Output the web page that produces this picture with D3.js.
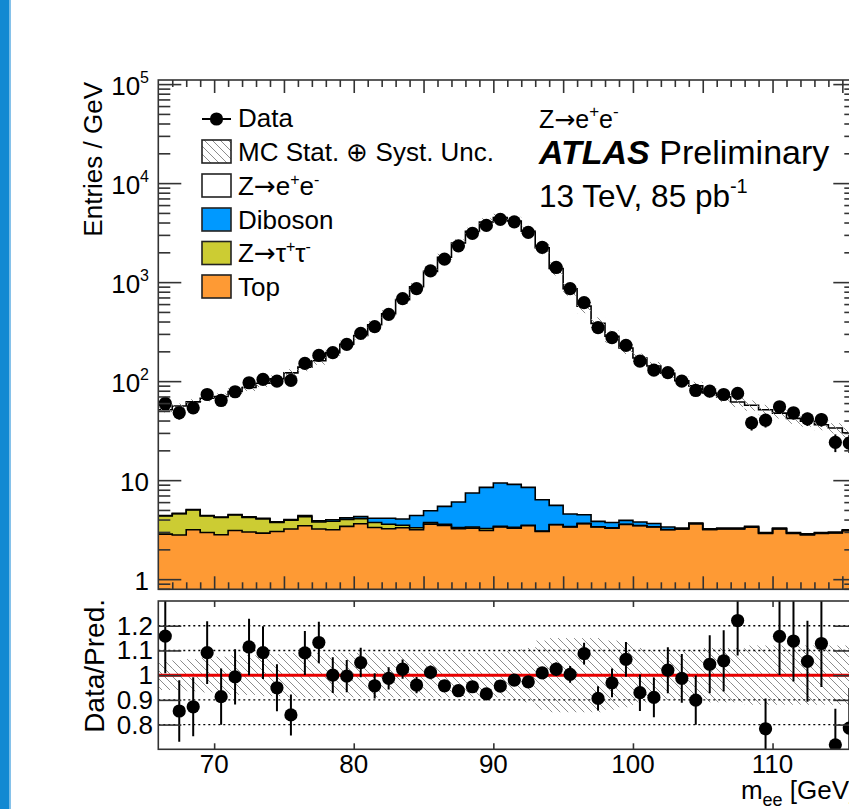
<!DOCTYPE html>
<html><head><meta charset="utf-8">
<script src="https://cdn.jsdelivr.net/npm/d3@7"></script>
<style>
body{margin:0;background:#fff;overflow:hidden}
svg{display:block}
text{font-family:"Liberation Sans",Arial,Helvetica,sans-serif;fill:#000}
.arr{font-family:"DejaVu Sans",sans-serif}
</style></head><body>
<svg id="c" width="849" height="809"></svg>
<script>
// ---------- data ----------
const binEdges = [66,67,68,69,70,71,72,73,74,75,76,77,78,79,80,81,82,83,84,85,86,87,88,89,90,91,92,93,94,95,96,97,98,99,100,101,102,103,104,105,106,107,108,109,110,111,112,113,114,115,116];
const dataVals = [59.5,47.9,53.8,73.3,63.8,78.1,96.3,104,100,101.6, 151,182,194,235,304,355,473,682,861,1298, 1706,2324,3103,3741,4303,4067,3176,2240,1406,861, 622,347,275,230,159,129,122,100,80.5,79.2, 73.3,75.1,37.9,40.3,55.1,47.9,41.6,41,24.1,23.7];
const dataErr = [7.7,6.9,7.3,8.6,8.0,8.8,9.8,10.2,10,10.1, 12.3,13.5,13.9,15.3,17.4,18.8,21.7,26.1,29.3,36, 41.3,48.2,55.7,61.2,65.6,63.8,56.4,47.3,37.5,29.3, 24.9,18.6,16.6,15.2,12.6,11.4,11.0,10,9.0,8.9, 8.6,8.7,6.2,6.3,7.4,6.9,6.4,6.4,4.9,4.9];
const zeeVals = [47.0,51.4,56.7,62.8,65.7,74.2,82.1,91.2,101.6,117.1, 134.1,156.9,190,231.8,284.7,366.9,474.8,662,892.6,1279, 1778,2474,3249,4041,4492,4141,3256,2214,1367,853, 567.5,379.2,280.3,212.1,167.2,138.4,116.6,97.7,85.8,72.7, 66.0,58.2,53.6,48.5,44.3,39.1,36.5,33.3,30.6,27.0];
const dibosonVals = [0.05,0.05,0.05,0.05,0.05,0.05,0.05,0.06,0.06,0.07, 0.10,0.10,0.13,0.15,0.20,0.40,0.55,0.55,1.10,1.19, 1.85,2.68,4.06,5.21,5.96,5.73,4.96,3.28,1.99,1.16, 0.82,0.45,0.44,0.33,0.30,0.27,0.19,0.06,0.05,0.05, 0.05,0.05,0.05,0.05,0.05,0.05,0.05,0.05,0.05,0.05];
const ztautauVals = [1.50,1.78,1.85,1.39,1.38,1.35,1.22,1.14,0.71,0.72, 0.82,0.57,0.70,0.60,0.45,0.40,0.35,0.20,0.15,0.12, 0.10,0.10,0.08,0.15,0.05,0.06,0.04,0.04,0.03,0.03, 0.03,0.02,0.02,0.02,0.02,0.02,0.02,0.01,0.01,0.01, 0.01,0.01,0.01,0.01,0.01,0.01,0.01,0.01,0.01,0.01];
const topVals = [2.85,2.79,3.15,2.96,2.81,3.10,2.99,2.92,3.03,3.21, 3.46,3.21,3.15,3.41,3.63,3.33,3.23,3.30,3.15,3.60, 3.48,3.23,3.28,3.10,3.36,3.28,3.46,3.03,3.54,3.36, 3.63,3.36,3.28,3.57,3.46,3.36,3.15,3.21,3.63,3.17, 3.22,3.22,3.35,2.90,3.22,2.90,2.81,2.90,2.93,3.09];
const mcUnc = [0.06,0.06,0.065,0.07,0.075,0.08,0.08,0.085,0.085,0.09, 0.09,0.09,0.09,0.09,0.09,0.09,0.09,0.09,0.09,0.09, 0.09,0.09,0.09,0.09,0.09,0.10,0.11,0.14,0.15,0.15, 0.15,0.15,0.14,0.13,0.11,0.10,0.10,0.10,0.10,0.11, 0.11,0.11,0.12,0.12,0.12,0.12,0.12,0.12,0.12,0.12];
const ratioVals = [1.158,0.855,0.872,1.091,0.913,0.993,1.114,1.091,0.949,0.839, 1.090,1.132,1.0,0.996,1.051,0.957,0.987,1.024,0.960,1.011, 0.957,0.937,0.953,0.924,0.956,0.980,0.973,1.009,1.024,1.003, 1.087,0.906,0.969,1.064,0.929,0.910,1.020,0.987,0.899,1.044, 1.058,1.221,0.66,0.783,1.157,1.138,1.056,1.128,0.718,0.786];
const ratioErr = [0.150,0.124,0.119,0.127,0.114,0.112,0.114,0.107,0.095,0.083, 0.089,0.084,0.072,0.065,0.060,0.051,0.045,0.039,0.033,0.028, 0.023,0.019,0.017,0.015,0.015,0.015,0.017,0.021,0.027,0.034, 0.044,0.049,0.058,0.070,0.074,0.080,0.093,0.099,0.100,0.117, 0.124,0.141,0.106,0.123,0.156,0.164,0.164,0.176,0.146,0.161];
const xTickLabels = [70,80,90,100,110];
const yDecades = [0,1,2,3,4,5];
const ratioTicks = [0.8,0.9,1.0,1.1,1.2];
const ratioGrid = [0.8,0.9,1.1,1.2];

// ---------- layout ----------
const svg = d3.select("#c");
const X0=158.3, X1=856.3, TY0=80, TY1=589.3, RY0=601, RY1=749.3;
const x = d3.scaleLinear().domain([66,116]).range([X0,X1]);
const y = d3.scaleLog().domain([0.79,1.1e5]).range([TY1,TY0]);
const yr = d3.scaleLinear().domain([0.7,1.3]).range([RY1,RY0]);
const TICK="#333";

svg.append("rect").attr("x",0).attr("y",0).attr("width",849).attr("height",809).attr("fill","#fff");
svg.append("rect").attr("x",0).attr("y",0).attr("width",9.6).attr("height",809).attr("fill","#1289d2");
svg.append("rect").attr("x",9.6).attr("y",0).attr("width",1.4).attr("height",809).attr("fill","#86c2ea");

const defs = svg.append("defs");
defs.append("clipPath").attr("id","clipTop").append("rect").attr("x",X0).attr("y",TY0).attr("width",X1-X0).attr("height",TY1-TY0);
defs.append("clipPath").attr("id","clipRat").append("rect").attr("x",X0).attr("y",RY0).attr("width",X1-X0).attr("height",RY1-RY0);
const pat = defs.append("pattern").attr("id","hatch").attr("patternUnits","userSpaceOnUse").attr("width",8).attr("height",8);
pat.append("path").attr("d","M0,0 L8,8 M-1,7 L1,9 M7,-1 L9,1").attr("stroke","#8c8c8c").attr("stroke-width",1);

const centers = dataVals.map((d,i)=>(binEdges[i]+binEdges[i+1])/2);
const cumTop = topVals.slice();
const cumTau = cumTop.map((v,i)=>v+ztautauVals[i]);
const cumDib = cumTau.map((v,i)=>v+dibosonVals[i]);
const cumZee = cumDib.map((v,i)=>v+zeeVals[i]);

function stepPts(vals){
  const p=[];
  vals.forEach((v,i)=>{p.push([binEdges[i],v]);p.push([binEdges[i+1],v]);});
  return p;
}
const area = d3.area().x(d=>x(d[0])).y0(TY1+2).y1(d=>y(d[1]));
const line = d3.line().x(d=>x(d[0])).y(d=>y(d[1]));

// ---------- top panel ----------
const gt = svg.append("g").attr("clip-path","url(#clipTop)");
[[cumZee,"#ffffff"],[cumDib,"#0099ff"],[cumTau,"#cccc33"],[cumTop,"#fe9a34"]].forEach(([c,col])=>{
  gt.append("path").attr("d",area(stepPts(c))).attr("fill",col);
});
[cumTop,cumTau,cumDib,cumZee].forEach(c=>{
  gt.append("path").attr("d",line(stepPts(c))).attr("fill","none").attr("stroke","#000").attr("stroke-width",1.6);
});
gt.selectAll("rect.unc").data(cumZee).join("rect").attr("class","unc")
  .attr("x",(d,i)=>x(binEdges[i])).attr("width",(d,i)=>x(binEdges[i+1])-x(binEdges[i]))
  .attr("y",(d,i)=>y(d*(1+mcUnc[i]))).attr("height",(d,i)=>y(d*(1-mcUnc[i]))-y(d*(1+mcUnc[i])))
  .attr("fill","url(#hatch)");
gt.selectAll("line.err").data(dataVals).join("line").attr("class","err")
  .attr("x1",(d,i)=>x(centers[i])).attr("x2",(d,i)=>x(centers[i]))
  .attr("y1",(d,i)=>y(d-dataErr[i])).attr("y2",(d,i)=>y(d+dataErr[i]))
  .attr("stroke","#000").attr("stroke-width",2);
gt.selectAll("circle.pt").data(dataVals).join("circle").attr("class","pt")
  .attr("cx",(d,i)=>x(centers[i])).attr("cy",d=>y(d)).attr("r",6.6).attr("fill","#000");

// ---------- ratio panel ----------
const gr = svg.append("g").attr("clip-path","url(#clipRat)");
gr.selectAll("rect.unc").data(mcUnc).join("rect").attr("class","unc")
  .attr("x",(d,i)=>x(binEdges[i])).attr("width",(d,i)=>x(binEdges[i+1])-x(binEdges[i]))
  .attr("y",d=>yr(1+d)).attr("height",d=>yr(1-d)-yr(1+d)).attr("fill","url(#hatch)");
ratioGrid.forEach(v=>{
  gr.append("line").attr("x1",X0).attr("x2",X1).attr("y1",yr(v)).attr("y2",yr(v))
    .attr("stroke","#000").attr("stroke-width",1.4).attr("stroke-dasharray","2,3");
});
gr.append("line").attr("x1",X0).attr("x2",X1).attr("y1",yr(1)).attr("y2",yr(1))
  .attr("stroke","#e80000").attr("stroke-width",3);
ratioVals.forEach((v,i)=>{
  if(v<0.7||v>1.3) return;
  gr.append("line").attr("x1",x(centers[i])).attr("x2",x(centers[i]))
    .attr("y1",yr(v-ratioErr[i])).attr("y2",yr(v+ratioErr[i])).attr("stroke","#000").attr("stroke-width",2);
  gr.append("circle").attr("cx",x(centers[i])).attr("cy",yr(v)).attr("r",6.6).attr("fill","#000");
});

// ---------- frames & ticks ----------
svg.append("rect").attr("x",X0).attr("y",TY0).attr("width",X1-X0).attr("height",TY1-TY0).attr("fill","none").attr("stroke",TICK).attr("stroke-width",1.6);
svg.append("rect").attr("x",X0).attr("y",RY0).attr("width",X1-X0).attr("height",RY1-RY0).attr("fill","none").attr("stroke",TICK).attr("stroke-width",1.6);

function addAxis(axis,tx,ty){
  const g=svg.append("g").attr("transform",`translate(${tx},${ty})`).call(axis);
  g.select(".domain").remove();
  g.selectAll("text").remove();
  g.selectAll("line").attr("stroke",TICK).attr("stroke-width",1.6);
  return g;
}
const inner = binEdges.filter(v=>v>66&&v<116);
const xMaj = inner.filter(v=>v%5===0), xMin = inner.filter(v=>v%5!==0);
addAxis(d3.axisTop(x).tickValues(xMin).tickSize(7),0,TY1);
addAxis(d3.axisTop(x).tickValues(xMaj).tickSize(13),0,TY1);
addAxis(d3.axisBottom(x).tickValues(xMin).tickSize(7),0,TY0);
addAxis(d3.axisBottom(x).tickValues(xMaj).tickSize(13),0,TY0);
const yAll = y.ticks().filter(v=>v>=0.79&&v<=1.1e5);
const yMaj = yAll.filter(v=>Math.abs(Math.log10(v)-Math.round(Math.log10(v)))<1e-9);
const yMin = yAll.filter(v=>!yMaj.includes(v));
addAxis(d3.axisRight(y).tickValues(yMin).tickSize(12),X0,0);
addAxis(d3.axisRight(y).tickValues(yMaj).tickSize(23),X0,0);
addAxis(d3.axisLeft(y).tickValues(yMin).tickSize(12),X1,0);
addAxis(d3.axisLeft(y).tickValues(yMaj).tickSize(23),X1,0);
addAxis(d3.axisBottom(x).tickValues(xTickLabels).tickSize(6),0,RY0);
addAxis(d3.axisTop(x).tickValues(xTickLabels).tickSize(6),0,RY1);
addAxis(d3.axisRight(yr).tickValues(ratioTicks).tickSize(23),X0,0);
addAxis(d3.axisLeft(yr).tickValues(ratioTicks).tickSize(23),X1,0);

// ---------- tick labels ----------
const FS=26;
yDecades.forEach(k=>{
  const t=svg.append("text").attr("x",149).attr("y",y(Math.pow(10,k))+10.5).attr("text-anchor","end").attr("font-size",FS);
  if(k===0) t.text("1");
  else if(k===1) t.text("10");
  else { t.append("tspan").text("10"); t.append("tspan").attr("font-size",16).attr("dy",-12).text(k); }
});
ratioTicks.forEach(v=>{
  svg.append("text").attr("x",153).attr("y",yr(v)+9).attr("text-anchor","end").attr("font-size",FS).text(v===1?"1":v.toFixed(1));
});
xTickLabels.forEach(v=>{
  svg.append("text").attr("x",x(v)).attr("y",773).attr("text-anchor","middle").attr("font-size",FS).text(v);
});

// ---------- axis titles ----------
svg.append("text").attr("transform","translate(101.5,82) rotate(-90)").attr("text-anchor","end").attr("font-size",FS).text("Entries / GeV");
svg.append("text").attr("transform","translate(103.5,599) rotate(-90)").attr("text-anchor","end").attr("font-size",28).text("Data/Pred.");
const xt = svg.append("text").attr("x",X1).attr("y",799).attr("text-anchor","end").attr("font-size",FS);
xt.append("tspan").text("m");
xt.append("tspan").attr("font-size",18).attr("dy",7).text("ee");
xt.append("tspan").attr("dy",-7).text(" [GeV]");

// ---------- legend ----------
const legRows=[118,151.5,185.5,219.5,253,286.5];
const LX=202, LW=29, LH=23, TX=238;
svg.append("line").attr("x1",LX).attr("x2",LX+LW).attr("y1",legRows[0]+1).attr("y2",legRows[0]+1).attr("stroke","#000").attr("stroke-width",2);
svg.append("circle").attr("cx",LX+LW/2).attr("cy",legRows[0]+1).attr("r",6.6).attr("fill","#000");
const boxFills=["url(#hatch)","#ffffff","#0099ff","#cccc33","#fe9a34"];
boxFills.forEach((f,i)=>{
  svg.append("rect").attr("x",LX).attr("y",legRows[i+1]-LH/2).attr("width",LW).attr("height",LH)
    .attr("fill",f).attr("stroke","#222").attr("stroke-width",1.6);
});
function legText(i){return svg.append("text").attr("x",TX).attr("y",legRows[i]+9).attr("font-size",FS);}
function decay(t, a, b, fs, sup, dy){
  t.append("tspan").text("Z");
  t.append("tspan").attr("class","arr").text("\u2192");
  t.append("tspan").text(a);
  t.append("tspan").attr("font-size",sup).attr("dy",-dy).text("+");
  t.append("tspan").attr("dy",dy).text(b);
  t.append("tspan").attr("font-size",sup).attr("dy",-dy).text("-");
}
legText(0).text("Data");
legText(1).text("MC Stat. \u2295 Syst. Unc.");
decay(legText(2),"e","e",FS,16,10);
legText(3).text("Diboson");
decay(legText(4),"\u03c4","\u03c4",FS,16,10);
legText(5).text("Top");

// ---------- labels ----------
const HX=539;
let h=svg.append("text").attr("x",HX).attr("y",128).attr("font-size",25);
decay(h,"e","e",25,17,11);
h=svg.append("text").attr("x",HX).attr("y",164).attr("font-size",34);
h.append("tspan").attr("font-weight","bold").attr("font-style","italic").text("ATLAS");
h.append("tspan").text(" Preliminary");
h=svg.append("text").attr("x",HX).attr("y",207).attr("font-size",31.5);
h.append("tspan").text("13 TeV, 85 pb"); h.append("tspan").attr("font-size",20).attr("dy",-14).text("-1");
</script></body></html>
